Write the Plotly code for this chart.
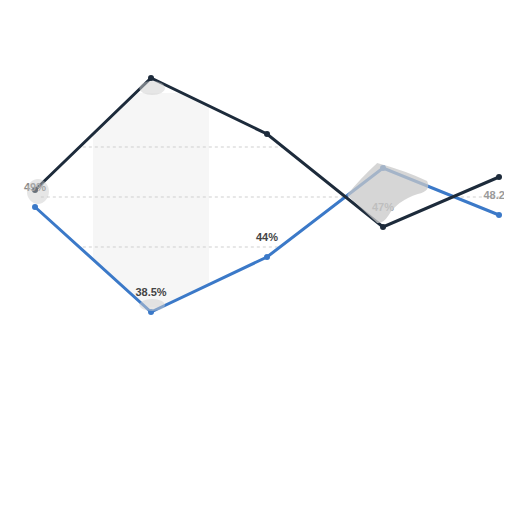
import plotly.graph_objects as go

categories = ["P1", "P2", "P3", "P4", "P5"]
dark_values = [50.7, 61.9, 56.3, 47.0, 52.0]
blue_values = [49.0, 38.5, 44.0, 52.9, 48.2]
label_values = [49.0, 38.5, 44.0, 47.0, 48.2]
label_text = ["49%", "38.5%", "44%", "47%", "48.2%"]
label_colors = ["#8a8a8a", "#444444", "#444444", "#a0a0a0", "#9a9a9a"]
grid_values = [45, 50, 55]

DARK = "#1d2b3b"
BLUE = "#3b79c8"
Y_RANGE = [17.7, 68.9]
X_RANGE = [-0.233, 4.181]


def main():
    idx = list(range(len(categories)))
    fig = go.Figure()

    # white masks outside the area between the two lines
    fig.add_trace(go.Scatter(x=idx, y=[Y_RANGE[1]] * len(idx), mode="lines",
                             line=dict(width=0), hoverinfo="skip"))
    fig.add_trace(go.Scatter(x=idx, y=dark_values, mode="lines", fill="tonexty",
                             fillcolor="white", line=dict(width=0), hoverinfo="skip"))
    fig.add_trace(go.Scatter(x=idx, y=blue_values, mode="lines", fill="tozeroy",
                             fillcolor="white", line=dict(width=0), hoverinfo="skip"))

    fig.add_trace(go.Scatter(x=idx, y=blue_values, mode="lines+markers",
                             line=dict(color=BLUE, width=3),
                             marker=dict(color=BLUE, size=6)))
    fig.add_trace(go.Scatter(x=idx, y=dark_values, mode="lines+markers",
                             line=dict(color=DARK, width=3),
                             marker=dict(color=DARK, size=6)))
    fig.add_trace(go.Scatter(x=idx, y=label_values, mode="markers+text", text=label_text,
                             textposition="top center",
                             marker=dict(size=20, opacity=0),
                             textfont=dict(family="Liberation Sans", size=11,
                                           color=label_colors, weight="bold"),
                             cliponaxis=False))

    # highlighted category band and dotted grid
    fig.add_shape(type="rect", xref="x", yref="y", x0=0.5, x1=1.5,
                  y0=39.0, y1=60.4, fillcolor="#f6f6f6",
                  line=dict(width=0), layer="below")
    for g in grid_values:
        fig.add_shape(type="line", xref="x", yref="y", x0=0.05, x1=4, y0=g, y1=g,
                      line=dict(color="#cfcfcf", width=1, dash="dot"), layer="below")

    # blurred smudges
    fig.add_shape(type="path", xref="x", yref="y",
                  path="M 2.69,50.2 Q 2.8,51.8 2.95,53.4 Q 3.2,52.6 3.38,51.6 "
                       "Q 3.42,50.6 3.3,50.3 Q 3.12,49.6 3.05,48.2 Q 3.0,47.3 2.95,47.4 Z",
                  fillcolor="rgba(200,200,200,0.75)", line=dict(width=0), layer="above")
    fig.add_shape(type="circle", xref="x", yref="y", x0=-0.07, x1=0.12, y0=49.3, y1=51.8,
                  fillcolor="rgba(200,200,200,0.45)", line=dict(width=0), layer="above")
    fig.add_shape(type="circle", xref="x", yref="y", x0=0.9, x1=1.12, y0=60.2, y1=61.6,
                  fillcolor="rgba(205,205,205,0.5)", line=dict(width=0), layer="above")
    fig.add_shape(type="circle", xref="x", yref="y", x0=0.9, x1=1.12, y0=38.6, y1=39.8,
                  fillcolor="rgba(205,205,205,0.5)", line=dict(width=0), layer="above")

    fig.update_layout(
        width=512, height=512,
        margin=dict(l=0, r=0, t=0, b=0),
        paper_bgcolor="white", plot_bgcolor="white",
        showlegend=False,
        hovermode=False,
        xaxis=dict(range=X_RANGE, visible=False),
        yaxis=dict(range=Y_RANGE, visible=False),
    )
    fig.write_html("out.html")


if __name__ == "__main__":
    main()
